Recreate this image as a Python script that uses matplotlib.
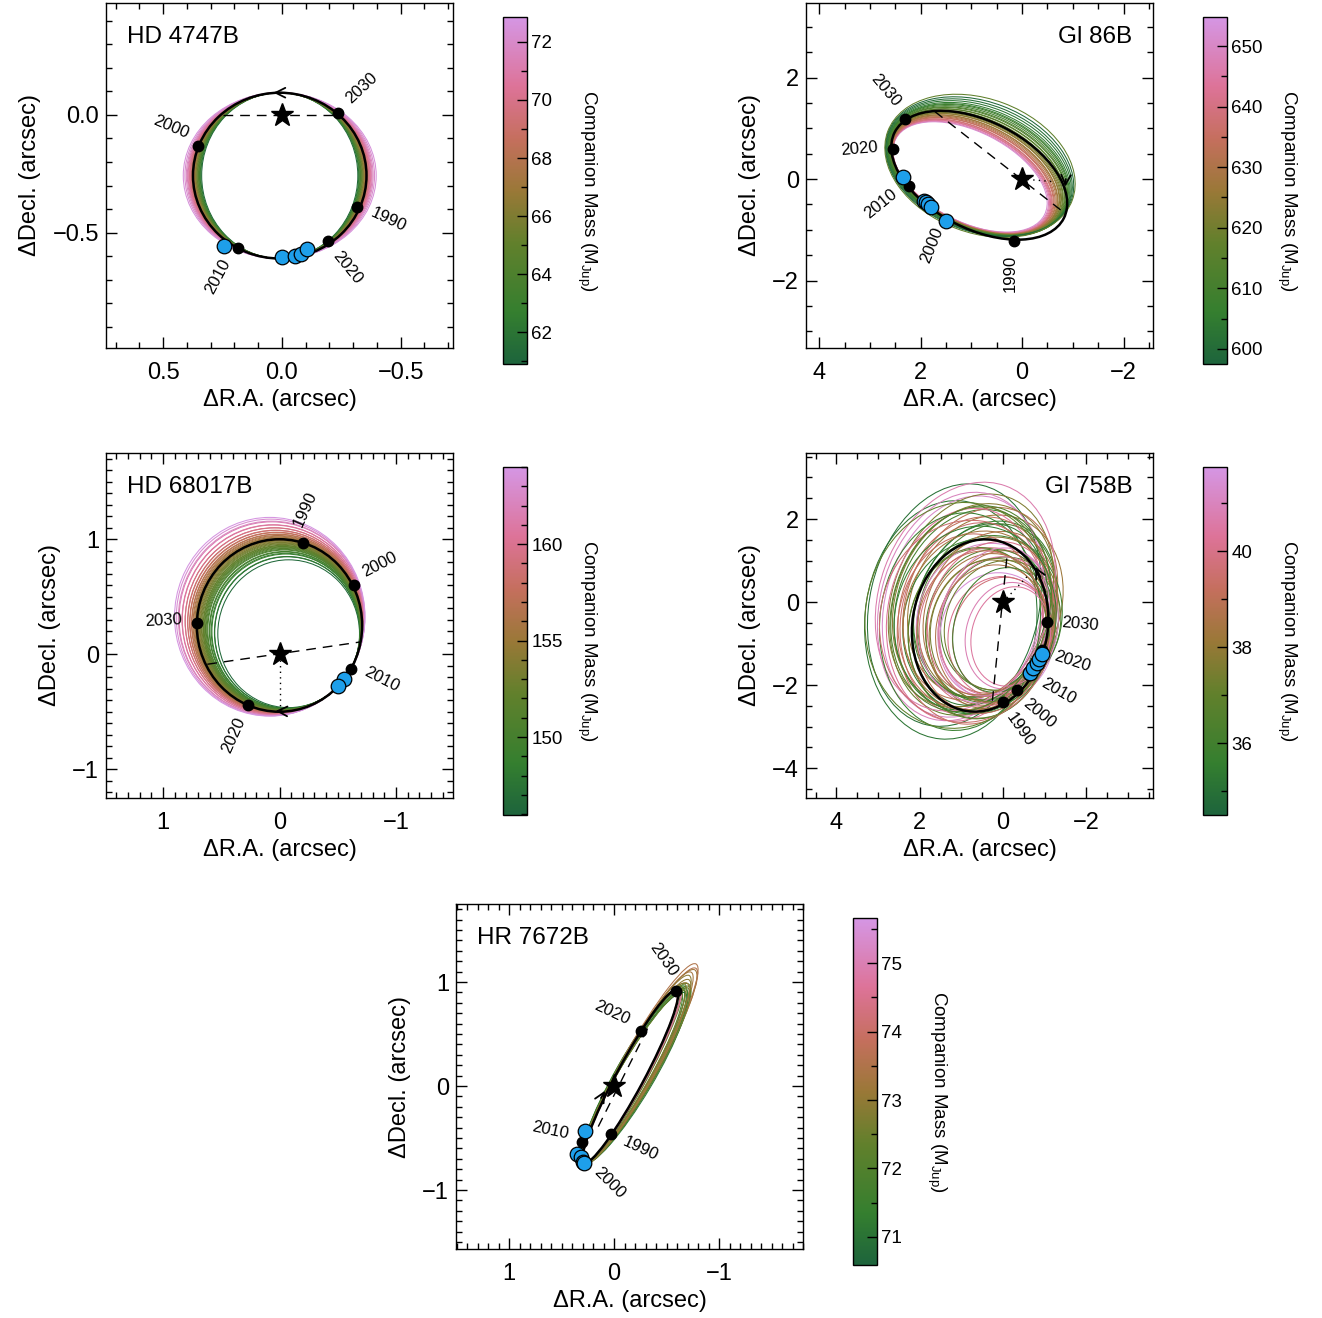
import numpy as np
import matplotlib
matplotlib.use("Agg")
import matplotlib.pyplot as plt
from matplotlib.patches import Ellipse
from matplotlib.colors import LinearSegmentedColormap, Normalize
from matplotlib.cm import ScalarMappable
from matplotlib.ticker import MultipleLocator, FuncFormatter

plt.rcParams['font.family'] = ['Liberation Sans', 'DejaVu Sans']
plt.rcParams['mathtext.fontset'] = 'custom'
plt.rcParams['mathtext.rm'] = 'Liberation Sans'
plt.rcParams['mathtext.it'] = 'Liberation Sans:italic'

# ---- data -------------------------------------------------------------
names = ["HD 4747B", "Gl 86B", "HD 68017B", "Gl 758B", "HR 7672B"]
years = ["1990", "2000", "2010", "2020", "2030"]

# best-fit orbit ellipse: center, width, height, angle (data coords)
best_center = [(0.009, -0.258), (0.845, 0.075), (0.0, 0.25), (0.55, -0.565), (-0.155, 0.09)]
best_width = [0.73, 3.74, 1.42, 4.17, 1.88]
best_height = [0.704, 2.12, 1.50, 3.25, 0.26]
best_angle = [0, 27, 0, 99, 118]
# point that the sampled orbits are pinned near (the astrometry)
anchor = [(0.009, -0.258), (2.35, -0.2), (-0.55, -0.25), (-1.12, -1.35), (0.3, -0.68)]

# sampled orbits: mass, scale about anchor, turn (deg), flattening
p1_mass = [61.2, 62.0, 62.5, 63.1, 63.6, 64.0, 64.4, 64.9, 65.3, 65.8, 66.1, 66.5, 66.9, 67.2,
           67.6, 68.0, 68.3, 68.7, 69.0, 69.4, 69.8, 70.1, 70.5, 70.9, 71.3, 71.7, 72.1, 72.5]
p1_scale = [0.900, 0.910, 0.917, 0.925, 0.931, 0.937, 0.944, 0.951, 0.957, 0.964, 0.970, 0.976,
            0.982, 0.988, 0.994, 1.000, 1.006, 1.013, 1.019, 1.026, 1.033, 1.040, 1.048, 1.056,
            1.065, 1.077, 1.093, 1.112]
p1_flat = [1.111, 1.099, 1.091, 1.081, 1.074, 1.067, 1.059, 1.051, 1.045, 1.037, 1.031, 1.025,
           1.018, 1.012, 1.006, 1.000, 0.994, 0.987, 0.981, 0.975, 0.968, 0.962, 0.954, 0.947,
           0.939, 0.929, 0.915, 0.899]
p1_turn = None

p2_mass = [652, 648, 645, 642, 640, 638, 636, 634, 632, 630, 628, 627, 625, 624, 622, 621, 619,
           618, 616, 615, 613, 612, 610, 609, 607, 605, 603, 601, 599, 617]
p2_scale = [0.880, 0.888, 0.894, 0.900, 0.905, 0.910, 0.915, 0.920, 0.926, 0.932, 0.938, 0.942,
            0.948, 0.952, 0.958, 0.962, 0.968, 0.972, 0.978, 0.982, 0.988, 0.992, 0.996, 1.000,
            1.005, 1.010, 1.016, 1.022, 1.030, 1.038]
p2_turn = [0, 0, 0, 0, 0, 0, -0.5, -0.5, -0.5, -1, -1, -1, -1.5, -1.5, -1.5, -2, -2, -2, -2.5,
           -2.5, -3, -3, -3.5, -4, -4, -4.5, -5, -5.5, -6, -6.5]
p2_flat = [0.95, 0.95, 0.96, 0.96, 0.97, 0.97, 0.98, 0.98, 0.99, 0.99, 1.0, 1.0, 1.01, 1.01,
           1.02, 1.02, 1.03, 1.04, 1.05, 1.05, 1.06, 1.07, 1.08, 1.09, 1.10, 1.11, 1.13, 1.15,
           1.17, 1.20]

p3_mass = [146.5, 147.2, 148.0, 148.6, 149.1, 149.5, 149.9, 150.3, 150.6, 150.9, 151.2, 151.5,
           151.8, 152.0, 152.3, 152.6, 152.9, 153.1, 153.4, 153.7, 153.9, 154.2, 154.5, 154.8,
           155.0, 155.3, 155.6, 155.9, 156.2, 156.5, 156.9, 157.3, 157.7, 158.1, 158.6, 159.1,
           159.6, 160.2, 160.8, 161.5, 162.2, 163.0, 163.8]
p3_scale = [0.857, 0.878, 0.880, 0.902, 0.897, 0.915, 0.911, 0.930, 0.925, 0.941, 0.936, 0.950,
            0.946, 0.958, 0.955, 0.969, 0.964, 0.978, 0.974, 0.988, 0.983, 0.996, 0.992, 1.006,
            1.001, 1.015, 1.011, 1.026, 1.021, 1.036, 1.033, 1.049, 1.046, 1.063, 1.061, 1.080,
            1.079, 1.099, 1.101, 1.121, 1.126, 1.140, 1.152]
p3_turn = None
p3_flat = None

p4_mass = [40.8, 35.2, 37.9, 39.6, 36.4, 41.2, 38.5, 35.8, 40.1, 37.1, 36.9, 39.0, 35.0, 38.2,
           41.5, 36.1, 39.9, 37.6, 40.5, 35.5, 38.9, 36.6, 41.0, 37.3, 39.3, 35.9, 40.3, 38.0,
           36.3, 39.7, 37.8, 41.3, 35.3, 38.7, 40.7, 36.8, 39.1, 37.4, 35.7, 40.0, 38.4, 36.0,
           39.5, 41.1, 37.0, 38.6, 35.6, 40.4, 36.5, 39.2]
p4_scale = [0.62, 1.38, 0.95, 1.12, 0.78, 1.30, 0.88, 1.05, 0.70, 1.22, 0.98, 0.84, 1.42, 1.08,
            0.74, 1.18, 0.92, 1.27, 0.81, 1.01, 1.15, 0.89, 1.34, 0.76, 1.10, 0.96, 1.24, 0.86,
            1.03, 0.68, 1.20, 0.93, 1.07, 0.80, 1.36, 0.99, 1.13, 0.83, 1.26, 0.91, 1.04, 0.73,
            1.17, 0.87, 1.31, 0.97, 1.09, 0.58, 1.21, 0.94]
p4_turn = [3, -4, 8, 2, 10, 6, 0, 12, -2, 5, -6, 9, 4, 14, -3, 7, 1, 11, 6, -1, 13, 3, 5, 9, -5,
           8, 2, -4, 12, 0, 10, 4, 7, -2, 11, -6, 6, 1, -3, 9, 3, 5, -1, 8, 0, 12, 2, 4, 7, -4]
p4_flat = [1.0, 0.92, 1.08, 0.95, 1.12, 0.9, 1.04, 0.97, 1.1, 0.93, 1.06, 0.99, 0.88, 1.02, 1.14,
           0.96, 1.07, 0.91, 1.03, 1.11, 0.94, 1.05, 0.89, 1.09, 0.98, 1.13, 0.92, 1.01, 0.95,
           1.08, 0.97, 1.12, 0.9, 1.06, 0.93, 1.04, 0.99, 1.1, 0.94, 1.02, 1.07, 0.96, 1.11, 0.91,
           1.05, 0.98, 1.09, 1.0, 0.95, 1.03]

p5_mass = [71.2, 71.5, 71.8, 72.0, 72.3, 71.4, 71.9, 72.6, 73.0, 73.3, 73.6, 74.0, 74.4, 74.8,
           71.0, 72.2, 72.9, 73.2, 73.5, 71.6, 72.4, 74.2, 73.1, 72.8]
p5_scale = [1.00, 1.01, 1.02, 1.03, 1.02, 1.04, 1.05, 1.03, 1.08, 1.12, 1.15, 1.01, 1.00, 1.02,
            1.01, 1.06, 1.10, 1.14, 1.17, 1.03, 1.04, 0.99, 1.06, 1.05]
p5_turn = [0.5, 1, 1.5, 1, 2, 1.5, 2.5, 0.5, 1.5, 1, 1.5, 0.5, 0, 0.5, 2.5, 2, 1, 1.5, 1, 2, 2.5,
           0, 1.5, 1]
p5_flat = [1.1, 1.2, 1.1, 1.25, 1.15, 1.3, 1.2, 1.05, 1.15, 1.1, 1.1, 1.0, 1.05, 1.0, 1.35, 1.25,
           1.1, 1.15, 1.1, 1.3, 1.2, 1.0, 1.2, 1.1]

# epoch markers on the best orbit (1990 ... 2030) and their labels
p1_dot_x = [-0.316, 0.352, 0.184, -0.192, -0.237]
p1_dot_y = [-0.391, -0.134, -0.565, -0.535, 0.010]
p1_lab_x = [-0.447, 0.468, 0.268, -0.274, -0.335]
p1_lab_y = [-0.445, -0.054, -0.685, -0.650, 0.113]
p1_lab_rot = [-25, -23, 62, -51, 43]

p2_dot_x = [0.16, 1.85, 2.22, 2.54, 2.31]
p2_dot_y = [-1.22, -0.52, -0.13, 0.59, 1.18]
p2_lab_x = [0.24, 1.78, 2.78, 3.21, 2.70]
p2_lab_y = [-1.86, -1.30, -0.49, 0.60, 1.75]
p2_lab_rot = [90, 68, 39, 5, -50]

p3_dot_x = [-0.200, -0.638, -0.615, 0.269, 0.712]
p3_dot_y = [0.970, 0.603, -0.130, -0.440, 0.270]
p3_lab_x = [-0.223, -0.861, -0.881, 0.392, 0.993]
p3_lab_y = [1.260, 0.780, -0.217, -0.704, 0.290]
p3_lab_rot = [66, 27, -27, 66, 3]

p4_dot_x = [0.007, -0.33, -0.62, -0.93, -1.06]
p4_dot_y = [-2.40, -2.12, -1.75, -1.16, -0.47]
p4_lab_x = [-0.41, -0.87, -1.33, -1.65, -1.85]
p4_lab_y = [-3.07, -2.68, -2.14, -1.44, -0.53]
p4_lab_rot = [-55, -40, -30, -18, -5]

p5_dot_x = [0.030, 0.290, 0.308, -0.254, -0.590]
p5_dot_y = [-0.460, -0.740, -0.540, 0.532, 0.917]
p5_lab_x = [-0.254, 0.045, 0.610, 0.022, -0.470]
p5_lab_y = [-0.600, -0.936, -0.423, 0.700, 1.220]
p5_lab_rot = [-25, -45, -12, -25, -55]

# measured relative astrometry
p1_obs_x = [0.244, 0.001, -0.055, -0.080, -0.106]
p1_obs_y = [-0.558, -0.605, -0.600, -0.589, -0.568]
p2_obs_x = [2.34, 1.93, 1.89, 1.85, 1.80, 1.50]
p2_obs_y = [0.05, -0.43, -0.46, -0.49, -0.56, -0.83]
p3_obs_x = [-0.552, -0.500]
p3_obs_y = [-0.211, -0.280]
p4_obs_x = [-0.648, -0.73, -0.81, -0.87, -0.93]
p4_obs_y = [-1.70, -1.60, -1.48, -1.36, -1.25]
p5_obs_x = [0.276, 0.355, 0.317, 0.298, 0.290]
p5_obs_y = [-0.433, -0.657, -0.686, -0.728, -0.740]

# line of nodes (dashed) and star->periastron (dotted)
nodes = [[(0.247, 0.0), (-0.237, 0.0)], [(1.72, 1.33), (-0.85, -0.68)],
         [(0.62, -0.087), (-0.695, 0.107)], [(-0.09, 1.05), (0.27, -2.52)],
         [(0.15, -0.39), (-0.343, 0.60)]]
peri = [None, [(0.0, 0.0), (-0.62, -0.05)], [(0.0, -0.05), (0.0, -0.46)],
        [(0.0, 0.0), (-0.65, 0.69)], None]
# direction arrow: (tail, tip)
arrows = [[(0.0, 0.094), (0.035, 0.094)], [(-0.86, 0.0), (-0.85, -0.15)],
          [(-0.02, -0.495), (0.034, -0.493)], [(-0.9, 0.6), (-0.77, 0.85)],
          [(0.124, -0.115), (0.086, -0.045)]]

# axes layout
xlims = [(0.74, -0.72), (4.26, -2.58), (1.49, -1.49), (4.73, -3.60), (1.505, -1.80)]
ylims = [(-0.99, 0.475), (-3.33, 3.47), (-1.25, 1.75), (-4.72, 3.59), (-1.567, 1.75)]
major = [0.5, 2, 1, 2, 1]
minor = [0.1, 0.5, 0.1, 0.5, 0.1]
fmts = ['%.1f', '%d', '%d', '%d', '%d']
cb_lims = [(60.9, 72.86), (597.5, 654.8), (145.96, 164.0), (34.5, 41.76), (70.59, 75.66)]
cb_major = [2, 10, 5, 2, 1]
cb_minor = [1, 5, 1, 1, 0.5]
title_right = [False, True, False, True, False]

# ---- figure -----------------------------------------------------------
W, H = 1322, 1318
fig = plt.figure(figsize=(W / 100, H / 100), dpi=100)

def rect(x0, y0, x1, y1):
    return [x0 / W, 1 - y1 / H, (x1 - x0) / W, (y1 - y0) / H]

ax_rects = [rect(106, 3, 453, 348), rect(806, 3, 1153, 348), rect(106, 453, 453, 798),
            rect(806, 453, 1153, 798), rect(456, 904, 803, 1249)]
cb_rects = [rect(503, 17, 527, 364), rect(1203, 17, 1227, 364), rect(503, 467, 527, 815),
            rect(1203, 467, 1227, 815), rect(853, 918, 877, 1265)]

cmap = LinearSegmentedColormap.from_list("mass", [
    (0.0, "#1d643c"), (0.15, "#357f2f"), (0.35, "#62802c"), (0.5, "#9a7837"),
    (0.65, "#c56f5e"), (0.8, "#dd7398"), (1.0, "#d596e4")])

samples = [(p1_mass, p1_scale, p1_turn, p1_flat), (p2_mass, p2_scale, p2_turn, p2_flat),
           (p3_mass, p3_scale, p3_turn, p3_flat), (p4_mass, p4_scale, p4_turn, p4_flat),
           (p5_mass, p5_scale, p5_turn, p5_flat)]
dots = [(p1_dot_x, p1_dot_y, p1_lab_x, p1_lab_y, p1_lab_rot),
        (p2_dot_x, p2_dot_y, p2_lab_x, p2_lab_y, p2_lab_rot),
        (p3_dot_x, p3_dot_y, p3_lab_x, p3_lab_y, p3_lab_rot),
        (p4_dot_x, p4_dot_y, p4_lab_x, p4_lab_y, p4_lab_rot),
        (p5_dot_x, p5_dot_y, p5_lab_x, p5_lab_y, p5_lab_rot)]
obs = [(p1_obs_x, p1_obs_y), (p2_obs_x, p2_obs_y), (p3_obs_x, p3_obs_y),
       (p4_obs_x, p4_obs_y), (p5_obs_x, p5_obs_y)]


def sample_orbit(ax, i, s, turn, flat, color):
    cx0, cy0 = best_center[i]
    ax0, ay0 = anchor[i]
    t = np.radians(turn)
    dx, dy = cx0 - ax0, cy0 - ay0
    cx = ax0 + s * (dx * np.cos(t) - dy * np.sin(t))
    cy = ay0 + s * (dx * np.sin(t) + dy * np.cos(t))
    ax.add_patch(Ellipse((cx, cy), s * best_width[i], s * best_height[i] * flat,
                         angle=best_angle[i] + turn, fill=False, ec=color, lw=0.75, zorder=1))


def minus_fmt(f):
    return FuncFormatter(lambda v, p: (f % (0 if abs(v) < 1e-9 else v)).replace('-', '\u2212'))


for i in range(5):
    ax = fig.add_axes(ax_rects[i])
    norm = Normalize(*cb_lims[i])
    mass, scale, turn, flat = samples[i]
    for k in range(len(mass)):
        tk = turn[k] if turn is not None else 0.0
        fk = flat[k] if flat is not None else 1.0
        sample_orbit(ax, i, scale[k], tk, fk, cmap(norm(mass[k])))

    (x0, y0), (x1, y1) = nodes[i]
    ax.plot([x0, x1], [y0, y1], color='k', lw=1.0, ls=(0, (7, 5)), zorder=2)
    if peri[i] is not None:
        (x0, y0), (x1, y1) = peri[i]
        ax.plot([x0, x1], [y0, y1], color='k', lw=1.0, ls=(0, (1, 3)), zorder=2)

    ax.add_patch(Ellipse(best_center[i], best_width[i], best_height[i], angle=best_angle[i],
                         fill=False, ec='k', lw=1.8, zorder=3))
    tail, tip = arrows[i]
    ax.annotate('', xy=tip, xytext=tail, zorder=4,
                arrowprops=dict(arrowstyle='->,head_length=0.7,head_width=0.35', color='k',
                                lw=1.3, shrinkA=0, shrinkB=0))
    ax.plot([0], [0], marker='*', ms=17, color='k', ls='none', zorder=5)

    dx_, dy_, lx, ly, lr = dots[i]
    ax.plot(dx_, dy_, 'o', ms=7.5, color='k', zorder=5)
    for yr, x, y, r in zip(years, lx, ly, lr):
        ax.text(x, y, yr, rotation=r, ha='center', va='center', fontsize=12,
                rotation_mode='anchor', zorder=6)
    ox, oy = obs[i]
    ax.plot(ox, oy, 'o', ms=10.5, mfc='#1e9fea', mec='k', mew=0.9, zorder=6)

    ax.set_xlim(*xlims[i])
    ax.set_ylim(*ylims[i])
    ax.xaxis.set_major_locator(MultipleLocator(major[i]))
    ax.yaxis.set_major_locator(MultipleLocator(major[i]))
    ax.xaxis.set_minor_locator(MultipleLocator(minor[i]))
    ax.yaxis.set_minor_locator(MultipleLocator(minor[i]))
    ax.xaxis.set_major_formatter(minus_fmt(fmts[i]))
    ax.yaxis.set_major_formatter(minus_fmt(fmts[i]))
    ax.tick_params(which='both', direction='in', top=True, right=True, width=1.0,
                   labelsize=17)
    ax.tick_params(which='major', length=8)
    ax.tick_params(axis='x', which='major', pad=10)
    ax.tick_params(axis='y', which='major', pad=5)
    ax.tick_params(which='minor', length=4)
    for sp in ax.spines.values():
        sp.set_linewidth(1.0)
    ax.set_xlabel('ΔR.A. (arcsec)', fontsize=17, labelpad=4)
    ax.set_ylabel('ΔDecl. (arcsec)', fontsize=17, labelpad=8)
    if title_right[i]:
        ax.text(0.94, 0.9, names[i], transform=ax.transAxes, ha='right', va='center',
                fontsize=17.5)
    else:
        ax.text(0.06, 0.9, names[i], transform=ax.transAxes, ha='left', va='center',
                fontsize=17.5)

    cax = fig.add_axes(cb_rects[i])
    cb = fig.colorbar(ScalarMappable(norm=norm, cmap=cmap), cax=cax)
    cb.set_ticks(MultipleLocator(cb_major[i]))
    cb.ax.yaxis.set_minor_locator(MultipleLocator(cb_minor[i]))
    cb.ax.tick_params(which='both', direction='in', labelsize=13.5, width=1.0, pad=3)
    cb.ax.tick_params(which='major', length=7)
    cb.ax.tick_params(which='minor', length=4)
    cb.outline.set_linewidth(1.0)
    cb.set_label('Companion Mass (M$_{\\mathrm{Jup}}$)', rotation=270, fontsize=13.5,
                 va='center', ha='center')
    cb.ax.yaxis.set_label_coords(3.5, 0.5)

fig.savefig('out.png', dpi=100)
